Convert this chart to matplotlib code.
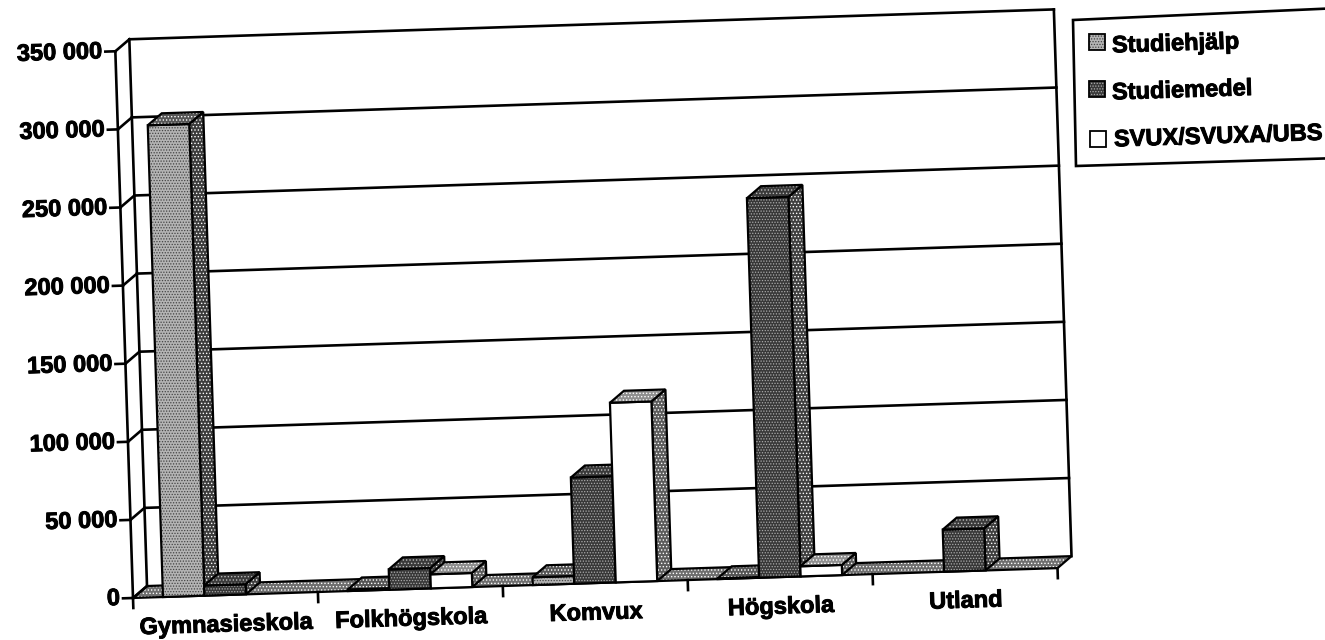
import matplotlib
matplotlib.use('Agg')
import matplotlib.pyplot as plt
import matplotlib.patheffects as pe
from matplotlib.patches import Polygon
from matplotlib.transforms import Affine2D

plt.rcParams['font.family'] = ['Liberation Sans', 'DejaVu Sans']
plt.rcParams['font.weight'] = 'bold'
plt.rcParams['hatch.linewidth'] = 0.6

categories = ['Gymnasieskola', 'Folkhögskola', 'Komvux', 'Högskola', 'Utland']
series_names = ['Studiehjälp', 'Studiemedel', 'SVUX/SVUXA/UBS']
studiehjalp = [302000, 1000, 5000, 500, 0]
studiemedel = [6500, 13000, 68000, 243000, 27000]
svux = [0, 9000, 115000, 6500, 0]
y_ticks = [0, 50000, 100000, 150000, 200000, 250000, 300000, 350000]
y_labels = ['0', '50 000', '100 000', '150 000', '200 000', '250 000', '300 000', '350 000']

# the scan is tilted, so everything goes through this rotation
TILT = 1.85
W, H = 1325, 640
X0, Y0, AW, AH = 133, 42, 925, 547
DX, DY = 14, 12  # depth of the 3d box in pixels
XPX = 5 / AW
YPX = 350000 / AH
heavy = [pe.withStroke(linewidth=0.7, foreground='black')]

fig = plt.figure(figsize=(W / 100, H / 100), dpi=100, facecolor='white')
ax = fig.add_axes([X0 / W, Y0 / H, AW / W, AH / H])
ax.set_xlim(0, 5)
ax.set_ylim(0, 350000)
ax.axis('off')

rot = Affine2D().rotate_deg_around(X0, Y0, TILT)
tr = ax.transData + rot
back = tr + Affine2D().translate(DX, DY)
fig.canvas.draw()


def line(xs, ys, trans=tr, lw=1.9, z=2):
    ax.plot(xs, ys, color='black', lw=lw, transform=trans, clip_on=False,
            solid_capstyle='projecting', zorder=z)


def shape(pts, trans, face, hatch, hatch_col, z, lw=1.6):
    ax.add_patch(Polygon(pts, closed=True, facecolor=face, edgecolor=hatch_col, hatch=hatch,
                         lw=0, transform=trans, clip_on=False, zorder=z))
    ax.add_patch(Polygon(pts, closed=True, fill=False, edgecolor='black', lw=lw,
                         transform=trans, clip_on=False, zorder=z))


def front_face(x0, x1, y, face, hatch_col, z):
    pts = [(x0, 0), (x1, 0), (x1, y), (x0, y)]
    shape(pts, tr, face, '......', hatch_col, z)


def slanted(a, b, face, hatch_col, z):
    # face going from the front plane to the back wall, in display pixels
    p = [tr.transform(a), tr.transform(b)]
    pts = [p[0], p[1], p[1] + (DX, DY), p[0] + (DX, DY)]
    shape(pts, None, face, '.....', hatch_col, z)


# floor
slanted((0, 0), (5, 0), '#6e6e6e', 'white', 1)

# walls and gridlines
line([0, 0], [0, 350000])
line([0, 0], [0, 350000], trans=back)
line([5, 5], [0, 350000], trans=back)
for v, lab in zip(y_ticks, y_labels):
    if v > 0:
        line([0, 5], [v, v], trans=back)
    a = tr.transform((0, v))
    ax.plot([a[0], a[0] + DX], [a[1], a[1] + DY], color='black', lw=1.9, transform=None,
            clip_on=False, zorder=2)
    line([-10 * XPX, 0], [v, v])
    ax.text(-13 * XPX, v, lab, transform=tr, ha='right', va='center', fontsize=17,
            rotation=TILT, rotation_mode='anchor', clip_on=False, path_effects=heavy)

# category ticks and labels
for i in range(6):
    line([i, i], [0, -10 * YPX])
for i, c in enumerate(categories):
    ax.text(i + 0.5, -30 * YPX, c, transform=tr, ha='center', va='center', fontsize=17,
            rotation=TILT, rotation_mode='anchor', clip_on=False, path_effects=heavy)

# bars, drawn left to right so that each covers the side of the one before
styles = [
    dict(front=('#b4b4b4', '#444444'), top=('#555555', 'white'), side=('#3c3c3c', 'white')),
    dict(front=('#383838', '#aaaaaa'), top=('#3a3a3a', '#bbbbbb'), side=('#404040', 'white')),
    dict(front=('white', 'white'), top=('#8f8f8f', 'white'), side=('#5c5c5c', 'white')),
]
values = [studiehjalp, studiemedel, svux]
start = 30 / 185
bw = 41.5 / 185
z = 3
for i in range(len(categories)):
    for s in range(3):
        v = values[s][i]
        st = styles[s]
        x0 = i + start + s * bw
        x1 = x0 + bw
        if v > 0:
            slanted((x1, 0), (x1, v), st['side'][0], st['side'][1], z)
            z += 1
            front_face(x0, x1, v, st['front'][0], st['front'][1], z)
            z += 1
            slanted((x0, v), (x1, v), st['top'][0], st['top'][1], z)
            z += 1

# legend box, runs off the right edge like the scan
px = Affine2D().scale(1, -1).translate(0, H)
box = [(1073, 20), (1340, 8), (1340, 158), (1076, 166)]
ax.add_patch(Polygon(box, closed=True, facecolor='white', edgecolor='black', lw=1.9,
                     transform=px, clip_on=False, zorder=50))
swatches = [(1089, 42, '#b4b4b4', '#444444'), (1089, 89, '#383838', '#aaaaaa'), (1090, 139, 'white', 'white')]
text_pos = [(1112, 46), (1112, 93), (1114, 140)]
for (sx, sy, fc, hc), (tx, ty), name in zip(swatches, text_pos, series_names):
    pts = [(sx, sy - 8), (sx + 16, sy - 8), (sx + 16, sy + 8), (sx, sy + 8)]
    ax.add_patch(Polygon(pts, closed=True, facecolor=fc, edgecolor=hc, hatch='......', lw=0,
                         transform=px, clip_on=False, zorder=51))
    ax.add_patch(Polygon(pts, closed=True, fill=False, edgecolor='black', lw=1.3,
                         transform=px, clip_on=False, zorder=51))
    ax.text(tx, ty, name, transform=px, ha='left', va='center', fontsize=17, rotation=TILT,
            rotation_mode='anchor', clip_on=False, zorder=52, path_effects=heavy)

fig.savefig('out.png', dpi=100)
